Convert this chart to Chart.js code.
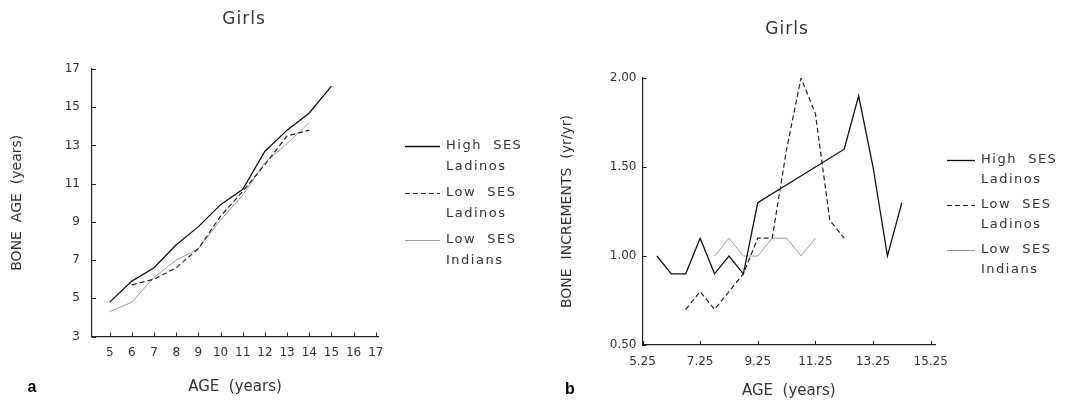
<!DOCTYPE html>
<html>
<head>
<meta charset="utf-8">
<script src="https://cdn.jsdelivr.net/npm/chart.js@4.4.1/dist/chart.umd.min.js"></script>
<style>
  html, body { margin: 0; padding: 0; background: #fff; }
  #wrap { position: relative; width: 1066px; height: 401px; overflow: hidden; }
  .panel { position: absolute; top: 0; height: 401px; }
  #left { left: 0; width: 530px; }
  #right { left: 530px; width: 536px; }
</style>
</head>
<body>
<div id="wrap">
  <div class="panel" id="left"><canvas id="chartA" width="530" height="401"></canvas></div>
  <div class="panel" id="right"><canvas id="chartB" width="536" height="401"></canvas></div>
</div>
<script>
// legend text, two lines per group
const groupLines = [['High  SES', 'Ladinos'], ['Low  SES', 'Ladinos'], ['Low  SES', 'Indians']];

// panel a - bone age (years) by age
const ageA = [5, 6, 7, 8, 9, 10, 11, 12, 13, 14, 15];
const highLadinosA = [4.8, 5.9, 6.6, 7.8, 8.75, 9.9, 10.7, 12.7, 13.8, 14.7, 16.1];
const lowLadinosA = [null, 5.7, 6.0, 6.6, 7.6, 9.3, 10.6, 12.0, 13.5, 13.8, null];
const indiansA = [4.3, 4.8, 6.1, 7.0, 7.6, 9.1, 10.4, 12.1, 13.1, 14.2, null];
const xTicksA = [5, 6, 7, 8, 9, 10, 11, 12, 13, 14, 15, 16, 17];
const yTicksA = [3, 5, 7, 9, 11, 13, 15, 17];

// panel b - bone increments (yr/yr)
const highLadinosAgeB = [5.75, 6.25, 6.75, 7.25, 7.75, 8.25, 8.75, 9.25, 12.25, 12.75, 13.25, 13.75, 14.25];
const highLadinosB = [1.0, 0.9, 0.9, 1.1, 0.9, 1.0, 0.9, 1.3, 1.6, 1.9, 1.5, 1.0, 1.3];
const lowLadinosAgeB = [6.75, 7.25, 7.75, 8.25, 8.75, 9.25, 9.75, 10.25, 10.75, 11.25, 11.75, 12.25];
const lowLadinosB = [0.7, 0.8, 0.7, 0.8, 0.9, 1.1, 1.1, 1.6, 2.0, 1.8, 1.2, 1.1];
const indiansAgeB = [7.75, 8.25, 8.75, 9.25, 9.75, 10.25, 10.75, 11.25];
const indiansB = [1.0, 1.1, 1.0, 1.0, 1.1, 1.1, 1.0, 1.1];
const xTicksB = [5.25, 7.25, 9.25, 11.25, 13.25, 15.25];
const yTicksB = [0.5, 1.0, 1.5, 2.0];

const FONT = '"DejaVu Sans", "Liberation Sans", sans-serif';
const INK = '#333';

function pts(xs, ys) {
    return xs.map((x, i) => ({ x: x, y: ys[i] })).filter(p => p.y !== null);
}

function seriesSets(a, b, c) {
    return [
        { label: 'High SES Ladinos', data: a, borderColor: '#111', borderWidth: 1.3, pointRadius: 0, tension: 0 },
        { label: 'Low SES Ladinos', data: b, borderColor: '#222', borderWidth: 1.2, borderDash: [5, 3], pointRadius: 0, tension: 0 },
        { label: 'Low SES Indians', data: c, borderColor: '#9c9c9c', borderWidth: 1, pointRadius: 0, tension: 0 }
    ];
}

// small tick marks pointing into the plot
const innerTicks = {
    id: 'innerTicks',
    afterDatasetsDraw(chart) {
        const ctx = chart.ctx;
        const xs = chart.scales.x, ys = chart.scales.y;
        ctx.save();
        ctx.strokeStyle = '#222';
        ctx.lineWidth = 1;
        xs.ticks.forEach(t => {
            const px = Math.round(xs.getPixelForValue(t.value)) + 0.5;
            ctx.beginPath(); ctx.moveTo(px, xs.top); ctx.lineTo(px, xs.top - 4); ctx.stroke();
        });
        ys.ticks.forEach(t => {
            const py = Math.round(ys.getPixelForValue(t.value)) + 0.5;
            ctx.beginPath(); ctx.moveTo(ys.right, py); ctx.lineTo(ys.right + 4, py); ctx.stroke();
        });
        ctx.restore();
    }
};

// title, panel letter and two-line legend
const panelText = {
    id: 'panelText',
    afterDraw(chart, args, opts) {
        const ctx = chart.ctx;
        ctx.save();
        ctx.textBaseline = 'middle';
        ctx.fillStyle = INK;
        ctx.letterSpacing = '1px';
        ctx.font = '17px ' + FONT;
        ctx.textAlign = 'center';
        ctx.fillText('Girls', opts.titleX, opts.titleY);
        ctx.letterSpacing = '0px';
        ctx.font = 'bold 16px "Liberation Sans", sans-serif';
        ctx.fillStyle = '#000';
        ctx.fillText(opts.letter, opts.letterX, opts.letterY);

        ctx.textAlign = 'left';
        ctx.letterSpacing = '1.5px';
        ctx.font = '13px ' + FONT;
        chart.data.datasets.forEach((ds, i) => {
            const y = opts.legTop + i * opts.legStep;
            ctx.strokeStyle = ds.borderColor;
            ctx.lineWidth = ds.borderWidth;
            ctx.setLineDash(ds.borderDash || []);
            ctx.beginPath();
            ctx.moveTo(opts.legX, y + 0.5);
            ctx.lineTo(opts.legX + opts.legLen, y + 0.5);
            ctx.stroke();
            ctx.fillStyle = INK;
            groupLines[i].forEach((line, j) => {
                ctx.fillText(line, opts.legX + opts.legLen + 6, y + j * opts.legGap);
            });
        });
        ctx.restore();
    }
};

function makeChart(id, sets, cfg) {
    return new Chart(document.getElementById(id).getContext('2d'), {
        type: 'line',
        data: { datasets: sets },
        plugins: [innerTicks, panelText],
        options: {
            responsive: false,
            animation: false,
            events: [],
            layout: { padding: cfg.padding },
            plugins: {
                legend: { display: false },
                tooltip: { enabled: false },
                panelText: cfg.text
            },
            scales: {
                x: {
                    type: 'linear',
                    min: cfg.xMin, max: cfg.xMax,
                    grid: { display: false, drawTicks: false },
                    border: { display: true, color: '#222', width: 1.2 },
                    afterBuildTicks: s => { s.ticks = cfg.xTicks.map(v => ({ value: v })); },
                    afterFit: s => { s.height = cfg.xHeight; },
                    ticks: {
                        color: INK, padding: cfg.xPad, maxRotation: 0, autoSkip: false,
                        font: { family: FONT, size: 12 },
                        callback: cfg.xFmt
                    },
                    title: {
                        display: true, text: 'AGE  (years)', color: INK,
                        font: { family: FONT, size: 15 }, padding: 0
                    }
                },
                y: {
                    type: 'linear',
                    min: cfg.yMin, max: cfg.yMax,
                    grid: { display: false, drawTicks: false },
                    border: { display: true, color: '#222', width: 1.2 },
                    afterBuildTicks: s => { s.ticks = cfg.yTicks.map(v => ({ value: v })); },
                    afterFit: s => { s.width = cfg.yWidth; },
                    ticks: {
                        color: INK, padding: cfg.yPad, autoSkip: false,
                        font: { family: FONT, size: 12 },
                        callback: cfg.yFmt
                    },
                    title: {
                        display: true, text: cfg.yTitle, color: INK,
                        font: { family: FONT, size: 14 }, padding: 0
                    }
                }
            }
        }
    });
}

makeChart('chartA', seriesSets(pts(ageA, highLadinosA), pts(ageA, lowLadinosA), pts(ageA, indiansA)), {
    padding: { left: 9, right: 152, top: 69, bottom: 5 },
    xMin: 4.2, xMax: 17.1, xTicks: xTicksA, xHeight: 59.5, xPad: 9, xFmt: v => String(v),
    yMin: 3, yMax: 17, yTicks: yTicksA, yWidth: 83, yPad: 12, yFmt: v => String(v),
    yTitle: 'BONE  AGE  (years)',
    text: { titleX: 244, titleY: 20, letter: 'a', letterX: 32, letterY: 388,
            legX: 405, legLen: 35, legTop: 146, legGap: 21, legStep: 47 }
});

makeChart('chartB', seriesSets(pts(highLadinosAgeB, highLadinosB), pts(lowLadinosAgeB, lowLadinosB), pts(indiansAgeB, indiansB)), {
    padding: { left: 29, right: 131, top: 78, bottom: 1 },
    xMin: 5.25, xMax: 15.4, xTicks: xTicksB, xHeight: 55, xPad: 10, xFmt: v => v.toFixed(2),
    yMin: 0.5, yMax: 2.0, yTicks: yTicksB, yWidth: 83.5, yPad: 6, yFmt: v => v.toFixed(2),
    yTitle: 'BONE  INCREMENTS  (yr/yr)',
    text: { titleX: 257, titleY: 30, letter: 'b', letterX: 40, letterY: 390,
            legX: 417, legLen: 28, legTop: 160, legGap: 20, legStep: 45 }
});
</script>
</body>
</html>
